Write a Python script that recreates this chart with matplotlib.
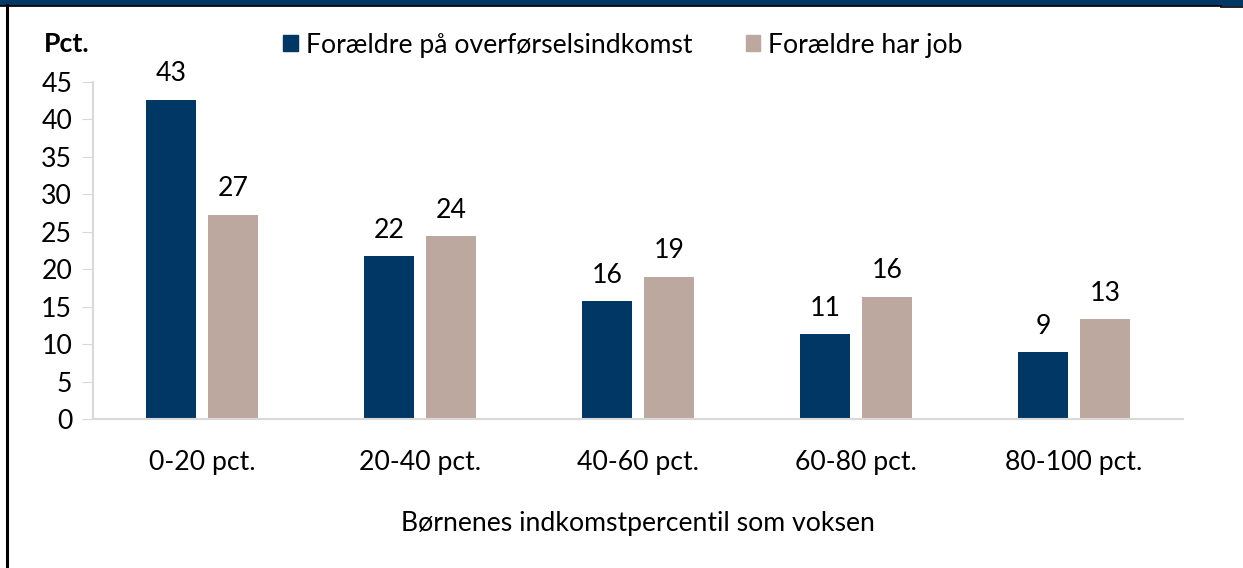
import matplotlib.pyplot as plt
import numpy as np
from matplotlib.lines import Line2D
from matplotlib.patches import Rectangle

plt.rcParams["font.family"] = ["Lato", "DejaVu Sans"]

categories = ["0-20 pct.", "20-40 pct.", "40-60 pct.", "60-80 pct.", "80-100 pct."]
overforsel = [42.6, 21.7, 15.7, 11.3, 8.9]
job = [27.3, 24.4, 19.0, 16.3, 13.3]
series_names = ["Forældre på overførselsindkomst", "Forældre har job"]
colors = ["#003764", "#BCA89E"]

FS = 19.2

fig = plt.figure(figsize=(12.43, 5.68), dpi=100)
ax = fig.add_axes([93 / 1243, 1 - 419 / 568, 1090 / 1243, 337 / 568])

x = np.arange(len(categories))
w = 0.23
gap = 0.055
offs = (w + gap) / 2
for vals, off, col in [(overforsel, -offs, colors[0]), (job, offs, colors[1])]:
    bars = ax.bar(x + off, vals, width=w, color=col)
    for b, v in zip(bars, vals):
        ax.text(b.get_x() + b.get_width() / 2, v + 1.8, f"{v:.0f}",
                ha="center", va="bottom", fontsize=FS)

ax.set_xlim(-0.5, len(categories) - 0.5)
ax.set_ylim(0, 45)
ax.set_yticks(range(0, 46, 5))
ax.set_xticks(x)
ax.set_xticklabels(categories)
ax.tick_params(axis="y", labelsize=FS, length=8, color="#D9D9D9", pad=7)
ax.tick_params(axis="x", labelsize=FS, length=0, pad=22)
for s in ["top", "right"]:
    ax.spines[s].set_visible(False)
for s in ["left", "bottom"]:
    ax.spines[s].set_color("#D9D9D9")
    ax.spines[s].set_linewidth(1.5)
ax.set_xlabel("Børnenes indkomstpercentil som voksen", fontsize=FS, labelpad=26)

# y-axis unit label
fig.text(67 / 1243, 1 - 44 / 568, "Pct.", fontsize=FS, fontweight="bold",
         ha="center", va="center")

# legend
handles = [Rectangle((0, 0), 1, 1, color=c) for c in colors]
fig.legend(handles, series_names, loc="center", bbox_to_anchor=(623 / 1243, 1 - 45 / 568),
           ncol=2, frameon=False, fontsize=FS, handlelength=0.55, handleheight=0.55,
           handletextpad=0.3, columnspacing=2.0, borderpad=0)

# frame decorations: dark band on top, black border on left
fig.patches.append(Rectangle((0, 1 - 5 / 568), 1, 5 / 568, transform=fig.transFigure,
                             color="#003764", zorder=0))
fig.lines.append(Line2D([0, 1221 / 1243], [1 - 5.5 / 568] * 2, transform=fig.transFigure,
                        color="black", lw=1.2))
fig.lines.append(Line2D([1221 / 1243, 1], [1 - 6.5 / 568] * 2, transform=fig.transFigure,
                        color="black", lw=1.2))
fig.lines.append(Line2D([7 / 1243] * 2, [0, 1 - 5 / 568], transform=fig.transFigure,
                        color="black", lw=2.2))

fig.savefig("out.png", dpi=100)
